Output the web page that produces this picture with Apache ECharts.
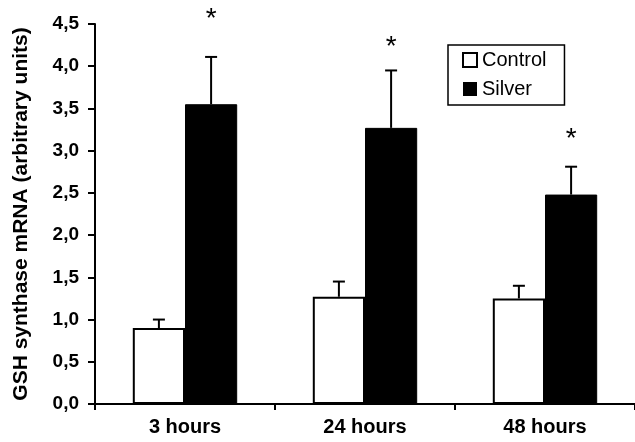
<!DOCTYPE html>
<html><head><meta charset="utf-8">
<script src="https://cdn.jsdelivr.net/npm/echarts@6/dist/echarts.min.js"></script>
<style>html,body{margin:0;padding:0;background:#fff}#c{width:635px;height:442px}</style>
</head><body><div id="c"></div>
<script>
const categories = ['3 hours', '24 hours', '48 hours'];
const controlValues = [0.90, 1.27, 1.25];
const controlErrors = [0.10, 0.18, 0.15];
const silverValues = [3.55, 3.27, 2.48];
const silverErrors = [0.56, 0.68, 0.33];
const starLevels = [4.61, 4.28, 3.19];
const yTicks = { min: 0, max: 4.5, interval: 0.5 };

const GAP = 0.42;
const FONT = 'Arial, "Liberation Sans", sans-serif';

function errSeries(idx, vals, errs) {
  return {
    type: 'custom', clip: false, z: 5, silent: true,
    renderItem: function (params, api) {
      const i = api.value(0), v = api.value(1), e = api.value(2);
      const base = api.coord([i, v]);
      const top = api.coord([i, v + e]);
      const catW = api.size([1, 0])[0];
      const bw = catW * (1 - GAP) / 2;
      const x = base[0] + (idx === 0 ? -bw / 2 : bw / 2);
      const st = { stroke: '#000', lineWidth: 2 };
      return { type: 'group', children: [
        { type: 'line', shape: { x1: x, y1: base[1], x2: x, y2: top[1] }, style: st },
        { type: 'line', shape: { x1: x - 6, y1: top[1], x2: x + 6, y2: top[1] }, style: st }
      ]};
    },
    data: vals.map((v, i) => [i, v, errs[i]])
  };
}

const chart = echarts.init(document.getElementById('c'));
chart.setOption({
  backgroundColor: '#fff',
  animation: false,
  grid: { left: 95, right: 0, top: 24, bottom: 38 },
  legend: {
    orient: 'vertical', left: 448, top: 45,
    padding: [5, 18, 6, 14], itemGap: 9,
    borderColor: '#000', borderWidth: 1.5,
    itemWidth: 14, itemHeight: 14, icon: 'rect',
    textStyle: { fontFamily: FONT, fontSize: 20, color: '#000' },
    data: [
      { name: 'Control', itemStyle: { color: '#fff', borderColor: '#000', borderWidth: 2 } },
      { name: 'Silver', itemStyle: { color: '#000', borderColor: '#000', borderWidth: 0 } }
    ]
  },
  xAxis: {
    type: 'category', data: categories,
    axisLine: { lineStyle: { color: '#000', width: 2 } },
    axisTick: { show: true, length: 6, lineStyle: { color: '#000', width: 2 } },
    axisLabel: { color: '#000', fontFamily: FONT, fontWeight: 'bold', fontSize: 20, margin: 13 }
  },
  yAxis: {
    type: 'value', min: yTicks.min, max: yTicks.max, interval: yTicks.interval,
    name: 'GSH synthase mRNA (arbitrary units)', nameLocation: 'middle', nameGap: 63,
    nameTextStyle: { color: '#000', fontFamily: FONT, fontWeight: 'bold', fontSize: 21 },
    axisLine: { show: true, lineStyle: { color: '#000', width: 2 } },
    axisTick: { show: true, length: 7, lineStyle: { color: '#000', width: 2 } },
    splitLine: { show: false },
    axisLabel: { color: '#000', fontFamily: FONT, fontWeight: 'bold', fontSize: 19, margin: 16,
      formatter: v => v.toFixed(1).replace('.', ',') }
  },
  series: [
    { name: 'Control', type: 'bar', data: controlValues, barGap: '0%', barCategoryGap: (GAP * 100) + '%',
      itemStyle: { color: '#fff', borderColor: '#000', borderWidth: 2 } },
    { name: 'Silver', type: 'bar', data: silverValues, barGap: '0%', barCategoryGap: (GAP * 100) + '%',
      itemStyle: { color: '#000', borderColor: '#000', borderWidth: 1 } },
    errSeries(0, controlValues, controlErrors),
    errSeries(1, silverValues, silverErrors),
    {
      type: 'custom', clip: false, z: 6, silent: true,
      renderItem: function (params, api) {
        const i = api.value(0), v = api.value(1);
        const p = api.coord([i, v]);
        const catW = api.size([1, 0])[0];
        const bw = catW * (1 - GAP) / 2;
        return { type: 'text', x: p[0] + bw / 2, y: p[1] + 5,
          style: { text: '*', fontSize: 28, fontFamily: FONT, fill: '#000', align: 'center', verticalAlign: 'middle' } };
      },
      data: starLevels.map((v, i) => [i, v])
    }
  ]
});
</script></body></html>
